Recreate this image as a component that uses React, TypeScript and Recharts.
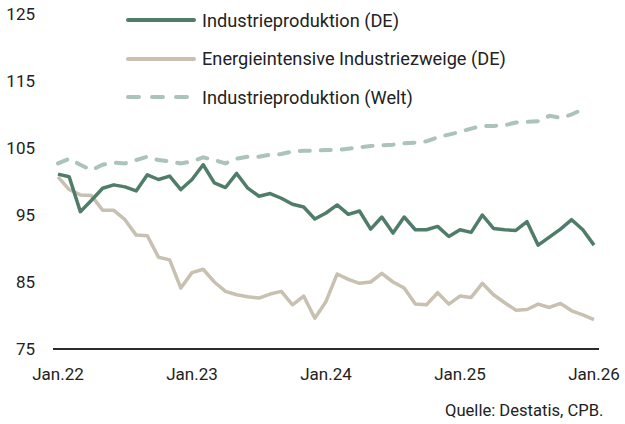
import React from "react";
import { LineChart, Line, XAxis, YAxis } from "recharts";

const monthNames = ["Jan", "Feb", "Mär", "Apr", "Mai", "Jun", "Jul", "Aug", "Sep", "Okt", "Nov", "Dez"];
const years = ["22", "23", "24", "25", "26"];

const industrieDE = [
  101.1, 100.7, 95.5, 97.2, 99.0, 99.5, 99.2, 98.6, 101.0, 100.3, 100.8, 98.8,
  100.3, 102.5, 99.8, 99.1, 101.2, 99.0, 97.8, 98.2, 97.5, 96.6, 96.2, 94.4,
  95.3, 96.5, 95.1, 95.6, 92.9, 94.7, 92.3, 94.7, 92.8, 92.8, 93.3, 91.8,
  92.8, 92.4, 95.0, 93.0, 92.8, 92.7, 94.0, 90.5, 91.7, 92.9, 94.3, 92.8,
  90.5,
];

const energieDE = [
  100.7, 98.8, 98.0, 97.9, 95.7, 95.7, 94.3, 92.0, 91.9, 88.7, 88.3, 84.1,
  86.4, 86.9, 85.0, 83.6, 83.1, 82.8, 82.6, 83.2, 83.6, 81.6, 82.9, 79.6,
  82.1, 86.2, 85.4, 84.8, 85.0, 86.3, 85.0, 84.1, 81.7, 81.6, 83.4, 81.7,
  82.9, 82.7, 84.8, 83.1, 81.9, 80.8, 80.9, 81.7, 81.2, 81.8, 80.7, 80.1,
  79.4,
];

const industrieWelt = [
  102.7, 103.4, 102.5, 101.7, 102.5, 102.8, 102.7, 103.2, 103.7, 103.2, 103.0, 102.7,
  103.0, 103.6, 103.2, 102.7, 103.4, 103.7, 103.7, 104.0, 104.1, 104.5, 104.6, 104.6,
  104.7, 104.7, 104.9, 105.1, 105.3, 105.4, 105.5, 105.7, 105.8, 106.0, 106.6, 107.0,
  107.4, 107.9, 108.3, 108.3, 108.4, 108.8, 108.9, 109.0, 109.8, 109.5, 110.0, 110.8,
];

const yTicks = [75, 85, 95, 105, 115, 125];

const seriesNames = {
  de: "Industrieproduktion (DE)",
  energie: "Energieintensive Industriezweige (DE)",
  welt: "Industrieproduktion (Welt)",
};

const colors = {
  de: "#4f7d69",
  energie: "#c8c0b1",
  welt: "#abc3b8",
};

const data = industrieDE.map((v, i) => ({
  month: `${monthNames[i % 12]}.${years[Math.floor(i / 12)]}`,
  de: v,
  energie: energieDE[i],
  welt: i < industrieWelt.length ? industrieWelt[i] : null,
}));

const FONT = "Roboto, 'DejaVu Sans', sans-serif";

const LegendBlock = () => {
  const rows: { key: keyof typeof colors; dashed: boolean }[] = [
    { key: "de", dashed: false },
    { key: "energie", dashed: false },
    { key: "welt", dashed: true },
  ];
  return (
    <div style={{ position: "absolute", left: 126, top: 1, fontFamily: FONT }}>
      {rows.map((r) => (
        <div
          key={r.key}
          style={{ display: "flex", alignItems: "center", height: 38.5 }}
        >
          <svg width={72} height={10} style={{ marginRight: 4 }}>
            <line
              x1={2}
              y1={5}
              x2={68}
              y2={5}
              stroke={colors[r.key]}
              strokeWidth={4}
              strokeLinecap="round"
              strokeDasharray={r.dashed ? "11 13" : undefined}
            />
          </svg>
          <span style={{ fontSize: 18.2, color: "#222", whiteSpace: "nowrap" }}>
            {seriesNames[r.key]}
          </span>
        </div>
      ))}
    </div>
  );
};

export default function App() {
  return (
    <div style={{ position: "relative", width: 625, height: 424, background: "#fff" }}>
      <style>{"body{margin:0}"}</style>
      <LineChart
        width={625}
        height={424}
        data={data}
        margin={{ top: 14, right: 26, bottom: 45, left: 8 }}
      >
        <XAxis
          dataKey="month"
          interval={11}
          height={30}
          padding={{ left: 5, right: 5 }}
          axisLine={{ stroke: "#2b2b2b", strokeWidth: 2 }}
          tickLine={false}
          tickSize={0}
          tickMargin={19}
          tick={{ fill: "#222", fontSize: 17, fontFamily: FONT }}
        />
        <YAxis
          domain={[75, 125]}
          ticks={yTicks}
          width={45}
          axisLine={false}
          tickLine={false}
          tickSize={0}
          tickMargin={18}
          tick={{ fill: "#222", fontSize: 17, fontFamily: FONT }}
        />
        <Line
          type="linear"
          dataKey="welt"
          name={seriesNames.welt}
          stroke={colors.welt}
          strokeWidth={4}
          strokeDasharray="10 11"
          strokeLinecap="round"
          dot={false}
          isAnimationActive={false}
          connectNulls={false}
        />
        <Line
          type="linear"
          dataKey="energie"
          name={seriesNames.energie}
          stroke={colors.energie}
          strokeWidth={3.5}
          strokeLinejoin="round"
          dot={false}
          isAnimationActive={false}
        />
        <Line
          type="linear"
          dataKey="de"
          name={seriesNames.de}
          stroke={colors.de}
          strokeWidth={3.5}
          strokeLinejoin="round"
          dot={false}
          isAnimationActive={false}
        />
      </LineChart>
      <LegendBlock />
      <div
        style={{
          position: "absolute",
          left: 445,
          top: 401,
          fontFamily: FONT,
          fontSize: 16.6,
          color: "#222",
          whiteSpace: "nowrap",
        }}
      >
        Quelle: Destatis, CPB.
      </div>
    </div>
  );
}
